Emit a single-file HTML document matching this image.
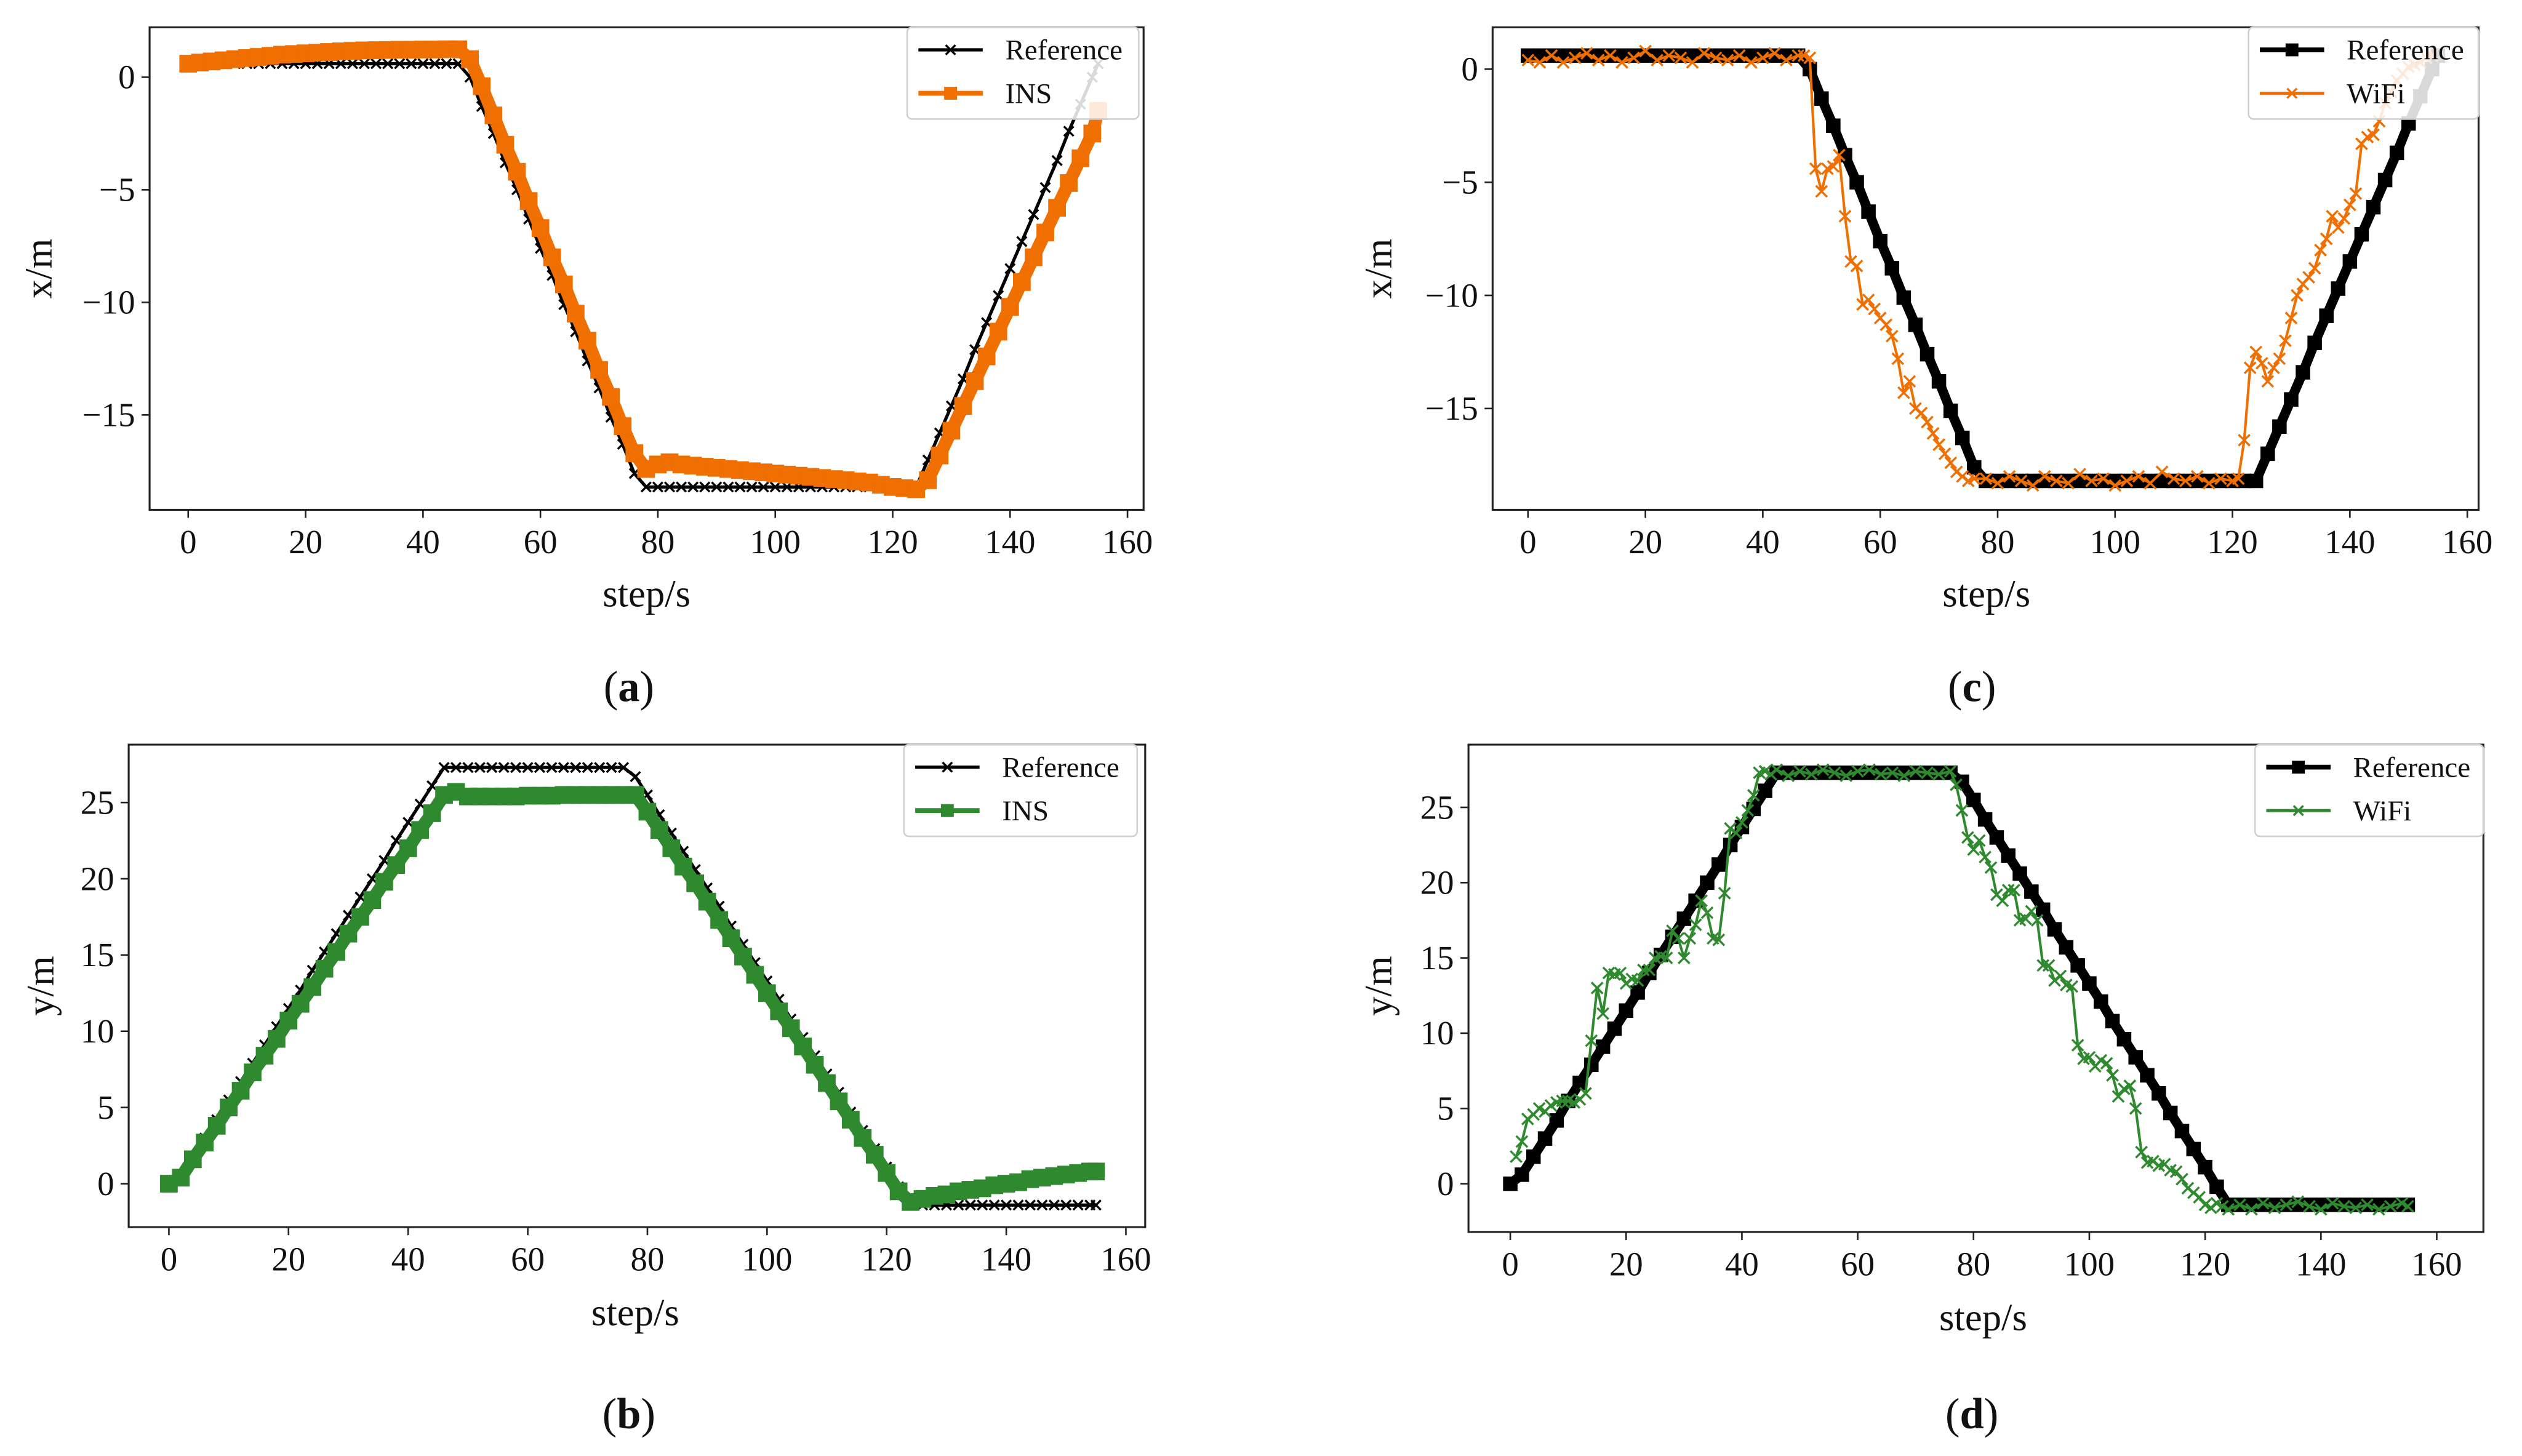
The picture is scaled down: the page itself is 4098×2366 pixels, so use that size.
<!DOCTYPE html>
<html><head><meta charset="utf-8"><style>
html,body{margin:0;padding:0;background:#fff;}
svg{display:block;}
text{font-family:"Liberation Serif",serif;fill:#111;}
</style></head><body>
<svg id="fig" width="4098" height="2366" viewBox="0 0 1568 905.3" xmlns="http://www.w3.org/2000/svg"></svg>
<script>
const evenSteps=[0,2,4,6,8,10,12,14,16,18,20,22,24,26,28,30,32,34,36,38,40,42,44,46,48,50,52,54,56,58,60,62,64,66,68,70,72,74,76,78,80,82,84,86,88,90,92,94,96,98,100,102,104,106,108,110,112,114,116,118,120,122,124,126,128,130,132,134,136,138,140,142,144,146,148,150,152,154,155];
const refX=[0.6,0.6,0.6,0.6,0.6,0.6,0.6,0.6,0.6,0.6,0.6,0.6,0.6,0.6,0.6,0.6,0.6,0.6,0.6,0.6,0.6,0.6,0.6,0.6,
0.0,-1.3,-2.5,-3.8,-5.0,-6.3,-7.6,-8.8,-10.1,-11.3,-12.6,-13.8,-15.1,-16.3,-17.6,
-18.2,-18.2,-18.2,-18.2,-18.2,-18.2,-18.2,-18.2,-18.2,-18.2,-18.2,-18.2,-18.2,-18.2,-18.2,-18.2,-18.2,-18.2,-18.2,-18.2,-18.2,-18.2,-18.2,-18.2,
-17.0,-15.8,-14.6,-13.4,-12.1,-10.9,-9.7,-8.5,-7.3,-6.1,-4.9,-3.7,-2.4,-1.2,0.0,0.6];
const insX=[0.6,0.65,0.7,0.75,0.8,0.85,0.9,0.95,1.0,1.03,1.06,1.09,1.12,1.15,1.17,1.19,1.2,1.21,1.22,1.22,1.23,1.23,1.24,1.24,
0.8,-0.4,-1.7,-3.0,-4.2,-5.5,-6.7,-8.0,-9.2,-10.5,-11.7,-13.0,-14.2,-15.5,-16.7,
-17.4,-17.2,-17.1,-17.2,-17.25,-17.3,-17.35,-17.4,-17.45,-17.5,-17.55,-17.6,-17.65,-17.7,-17.75,-17.8,-17.85,-17.9,-17.95,-18.0,-18.1,-18.2,-18.25,-18.3,
-17.9,-16.8,-15.7,-14.6,-13.5,-12.4,-11.3,-10.2,-9.1,-8.0,-6.9,-5.8,-4.7,-3.6,-2.5,-1.5];
const refY=[0,0.6,1.8,3.0,4.2,5.5,6.7,7.9,9.1,10.3,11.5,12.7,14.0,15.2,16.4,17.6,18.8,20.0,21.2,22.5,23.7,24.9,26.1,27.3,
27.3,27.3,27.3,27.3,27.3,27.3,27.3,27.3,27.3,27.3,27.3,27.3,27.3,27.3,27.3,
26.7,25.5,24.2,23.0,21.8,20.6,19.4,18.2,16.9,15.7,14.5,13.3,12.1,10.8,9.6,8.4,7.2,6.0,4.7,3.5,2.3,1.1,-0.2,-1.4,
-1.4,-1.4,-1.4,-1.4,-1.4,-1.4,-1.4,-1.4,-1.4,-1.4,-1.4,-1.4,-1.4,-1.4,-1.4,-1.4];
const insY=[0,0.4,1.6,2.7,3.8,5.0,6.1,7.3,8.4,9.5,10.7,11.8,12.9,14.1,15.2,16.4,17.5,18.6,19.8,20.9,22.0,23.2,24.3,25.5,
25.7,25.4,25.4,25.4,25.4,25.4,25.45,25.45,25.45,25.5,25.5,25.5,25.5,25.5,25.5,
25.5,24.4,23.2,22.0,20.8,19.7,18.5,17.3,16.1,14.9,13.7,12.5,11.3,10.2,9.0,7.8,6.6,5.4,4.2,3.0,1.9,0.7,-0.5,-1.2,
-1.0,-0.8,-0.7,-0.5,-0.4,-0.3,-0.1,0.0,0.1,0.3,0.4,0.5,0.6,0.7,0.8,0.8];
const wifiStepsC=[0,2,4,6,8,10,12,14,16,18,20,22,24,26,28,30,32,34,36,38,40,42,44,46,
47,48,49,50,51,52,53,54,55,56,57,58,59,60,61,62,63,64,65,66,67,68,69,70,71,72,73,74,75,76,
78,80,82,84,86,88,90,92,94,96,98,100,102,104,106,108,110,112,114,116,118,120,
121,122,123,124,125,126,127,128,129,130,131,132,133,134,135,136,137,138,139,140,141,142,143,144,145,146,147,148,149,150,151,152,153,154];
const wifiXc=[0.4,0.3,0.6,0.3,0.5,0.7,0.4,0.6,0.3,0.5,0.8,0.4,0.6,0.5,0.3,0.7,0.5,0.4,0.6,0.3,0.5,0.7,0.4,0.6,
0.6,0.5,-4.4,-5.4,-4.4,-4.3,-3.8,-6.5,-8.5,-8.7,-10.4,-10.2,-10.6,-11.0,-11.3,-11.8,-12.8,-14.3,-13.8,-15.0,-15.2,-15.6,-16.1,-16.6,-17.0,-17.4,-17.8,-18.0,-18.2,-18.1,
-18.1,-18.3,-18.0,-18.2,-18.4,-18.0,-18.2,-18.3,-17.9,-18.2,-18.1,-18.4,-18.2,-18.0,-18.3,-17.8,-18.1,-18.2,-18.0,-18.3,-18.1,-18.2,
-18.1,-16.4,-13.2,-12.5,-13.0,-13.8,-13.2,-12.8,-12.0,-11.0,-10.0,-9.5,-9.2,-8.8,-8.0,-7.5,-6.5,-7.0,-6.6,-6.0,-5.5,-3.3,-3.0,-2.9,-2.3,-1.5,-1.0,-0.5,-0.2,0.1,0.2,0.3,0.5,0.6];
const wifiStepsD=[1,2,3,4,5,6,7,8,9,10,11,12,13,14,15,16,17,18,19,20,21,22,23,24,25,26,27,28,29,30,31,32,33,34,35,36,37,38,39,40,41,42,43,44,45,
46,48,50,52,54,56,58,60,62,64,66,68,70,72,74,76,
77,78,79,80,81,82,83,84,85,86,87,88,89,90,91,92,93,94,95,96,97,98,99,100,101,102,103,104,105,106,107,108,109,110,111,112,113,114,115,116,117,118,119,120,121,122,123,124,
126,128,130,132,134,136,138,140,142,144,146,148,150,152,154,155];
const wifiYd=[1.8,2.8,4.3,4.6,5.0,4.8,5.2,5.4,5.5,5.5,5.4,5.6,6.0,9.5,13.0,11.3,14.0,13.9,14.0,13.3,13.6,13.5,14.2,14.2,15.0,15.1,15.0,16.8,16.3,15.0,16.3,17.2,18.8,18.0,16.3,16.2,19.3,23.6,23.3,24.0,24.8,25.8,27.3,27.4,27.2,
27.5,27.1,27.4,27.2,27.5,27.3,27.1,27.4,27.5,27.2,27.3,27.1,27.4,27.3,27.2,27.4,
26.5,24.8,23.0,22.2,22.8,21.7,21.0,19.2,18.8,19.5,19.5,17.5,17.6,18.1,17.5,14.5,14.5,13.5,13.8,13.2,13.1,9.2,8.3,8.4,7.8,8.2,8.0,7.2,5.8,6.3,6.5,5.0,2.1,1.4,1.5,1.2,1.3,0.9,0.8,0.3,-0.3,-0.6,-0.9,-1.4,-1.6,-1.3,-1.5,-1.7,
-1.4,-1.7,-1.3,-1.6,-1.4,-1.2,-1.5,-1.7,-1.3,-1.5,-1.6,-1.4,-1.7,-1.5,-1.3,-1.5];
const xTicks=[0,20,40,60,80,100,120,140,160];
const yTicksX=[0,-5,-10,-15];
const yTicksY=[0,5,10,15,20,25];

const NS='http://www.w3.org/2000/svg';
const svg=document.getElementById('fig');
function mk(tag,attrs,parent){const e=document.createElementNS(NS,tag);for(const k in attrs)e.setAttribute(k,attrs[k]);(parent||svg).appendChild(e);return e;}
function tx(str,attrs,parent){const e=mk('text',attrs,parent);e.textContent=str;return e;}
const ORANGE='#ef6f00',GREEN='#2f8a2f';

function marker(g,type,x,y,s,color){
  if(type==='sq'){mk('rect',{x:x-s/2,y:y-s/2,width:s,height:s,fill:color},g);}
  else{mk('path',{d:`M${x-s/2},${y-s/2}L${x+s/2},${y+s/2}M${x-s/2},${y+s/2}L${x+s/2},${y-s/2}`,stroke:color,'stroke-width':1.3,fill:'none'},g);}
}
function series(g,steps,vals,sx,sy,color,lw,mtype,ms){
  const pts=steps.map((t,i)=>sx(t).toFixed(2)+','+sy(vals[i]).toFixed(2)).join(' ');
  mk('polyline',{points:pts,fill:'none',stroke:color,'stroke-width':lw,'stroke-linejoin':'round'},g);
  steps.forEach((t,i)=>marker(g,mtype,sx(t),sy(vals[i]),ms,color));
}
function panel(p){
  const g=mk('g',{});
  
  
  const sx=v=>p.x0+(v-0)*(p.x160-p.x0)/160;
  const sy=v=>p.yZero+(v-0)*(p.yTop-p.yZero)/p.yTopVal;
  const clip='clip-'+p.name;
  const cp=mk('clipPath',{id:clip},g);mk('rect',{x:p.L,y:p.T,width:p.R-p.L,height:p.B-p.T},cp);
  const plot=mk('g',{'clip-path':`url(#${clip})`},g);
  p.series.forEach(s=>{const sg=mk('g',{},plot);series(sg,s.steps,s.vals,sx,sy,s.color,s.lw,s.m,s.ms);});
  const frame=mk('rect',{x:p.L,y:p.T,width:p.R-p.L,height:p.B-p.T,fill:'none',stroke:'#222','stroke-width':1.2},g);
  
  
  const xa=mk('g',{},g);
  xTicks.forEach(t=>{const X=sx(t);mk('line',{x1:X,x2:X,y1:p.B,y2:p.B+5,stroke:'#222','stroke-width':1},xa);
    tx(String(t),{x:X,y:p.B+27,'font-size':21,'text-anchor':'middle'},xa);});
  const ya=mk('g',{},g);
  p.yTicks.forEach(t=>{const Y=sy(t);mk('line',{x1:p.L-5,x2:p.L,y1:Y,y2:Y,stroke:'#222','stroke-width':1},ya);
    tx((t<0?'\u2212'+(-t):String(t)),{x:p.L-9,y:Y+7,'font-size':21,'text-anchor':'end'},ya);});
  const xl=tx('step/s',{x:p.xlx,y:p.xly,'font-size':24,'text-anchor':'middle'},g);
  
  const yl=tx(p.ylabel,{x:0,y:0,'font-size':24,'text-anchor':'middle',transform:`translate(${p.ylx},${p.yly}) rotate(-90)`},g);
  
  const cap=mk('text',{x:p.capx,y:p.capy,'font-size':27,'text-anchor':'middle'},g);
  
  cap.appendChild(document.createTextNode('('));
  const b=mk('tspan',{'font-weight':'bold'},cap);b.textContent=p.cap;
  cap.appendChild(document.createTextNode(')'));
  const lg=mk('g',{},g);
  mk('rect',{x:p.lgx,y:p.lgy,width:p.lgw,height:57,rx:3,fill:'rgba(255,255,255,0.85)',stroke:'#d0d0d0','stroke-width':1},lg);
  p.series.forEach((s,i)=>{const Y=p.lgy+14+i*27;const e=mk('g',{},lg);
    
    mk('line',{x1:p.lgx+7,x2:p.lgx+47,y1:Y,y2:Y,stroke:s.color,'stroke-width':Math.min(Math.max(s.lw,2),3)},e);
    marker(e,s.m,p.lgx+27,Y,s.m==='sq'?8:6,s.color);
    tx(s.label,{x:p.lgx+61,y:Y+6,'font-size':18},e);});
}
panel({name:'panel-a',L:93,R:711,T:17,B:317,x0:117,x160:701,yZero:48,yTop:258,yTopVal:-15,yTicks:yTicksX,ylabel:'x/m',
  xlx:402,xly:377,ylx:32,yly:167,cap:'a',capx:391,capy:436,lgx:564,lgy:17,lgw:144,
  series:[{dn:'reference-series',label:'Reference',steps:evenSteps,vals:refX,color:'#000',lw:2,m:'x',ms:6},
          {dn:'ins-series',label:'INS',steps:evenSteps,vals:insX,color:ORANGE,lw:8,m:'sq',ms:11}]});
panel({name:'panel-c',L:928,R:1541,T:17,B:317,x0:950,x160:1534,yZero:43,yTop:254,yTopVal:-15,yTicks:yTicksX,ylabel:'x/m',
  xlx:1235,xly:377,ylx:865,yly:167,cap:'c',capx:1226,capy:436,lgx:1398,lgy:17,lgw:143,
  series:[{dn:'reference-series',label:'Reference',steps:evenSteps,vals:refX,color:'#000',lw:6,m:'sq',ms:9},
          {dn:'wifi-series',label:'WiFi',steps:wifiStepsC,vals:wifiXc,color:ORANGE,lw:1.6,m:'x',ms:7}]});
panel({name:'panel-b',L:80,R:712,T:463,B:763,x0:105,x160:700,yZero:736,yTop:499,yTopVal:25,yTicks:yTicksY,ylabel:'y/m',
  xlx:395,xly:824,ylx:33,yly:613,cap:'b',capx:391,capy:888,lgx:562,lgy:463,lgw:145,
  series:[{dn:'reference-series',label:'Reference',steps:evenSteps,vals:refY,color:'#000',lw:2,m:'x',ms:6},
          {dn:'ins-series',label:'INS',steps:evenSteps,vals:insY,color:GREEN,lw:8,m:'sq',ms:11}]});
panel({name:'panel-d',L:913,R:1544,T:463,B:766,x0:939,x160:1515,yZero:736,yTop:502,yTopVal:25,yTicks:yTicksY,ylabel:'y/m',
  xlx:1233,xly:827,ylx:865,yly:613,cap:'d',capx:1226,capy:888,lgx:1402,lgy:463,lgw:142,
  series:[{dn:'reference-series',label:'Reference',steps:evenSteps,vals:refY,color:'#000',lw:6,m:'sq',ms:9},
          {dn:'wifi-series',label:'WiFi',steps:wifiStepsD,vals:wifiYd,color:GREEN,lw:1.6,m:'x',ms:7}]});
</script>
</body></html>
